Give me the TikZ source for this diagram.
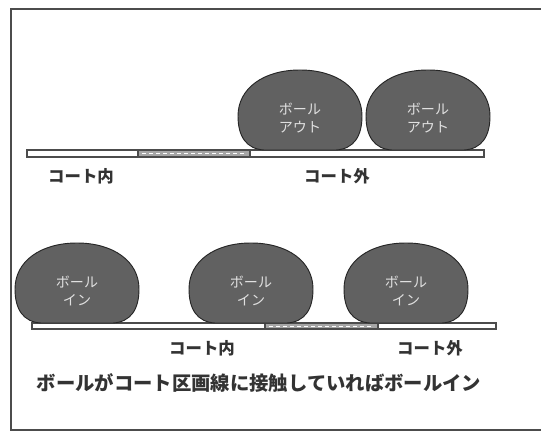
\documentclass[tikz,border=0pt]{standalone}
\usepackage{fontspec}
\newfontfamily\jp{Noto Sans CJK JP}
\usetikzlibrary{positioning}
\tikzset{
  frame/.style    = {draw=black!70, line width=1.4pt},
  court/.style    = {draw=black!70, fill=white, line width=0.9pt},
  arealine/.style = {draw=black!70, fill=black!35, line width=0.9pt},
  lbl/.style      = {font=\jp\bfseries\fontsize{14}{16}\selectfont, text=black!80},
  note/.style     = {font=\jp\bfseries\fontsize{16.5}{18}\selectfont, text=black!80},
  balltext/.style = {font=\jp\fontsize{12}{16}\selectfont, text=white!88!black, align=center},
  ball/.pic = {
    \path[draw=black!85, fill=black!62, line width=0.8pt]
      (-36,0) .. controls (-54,-1) and (-62,-14) .. (-62,-34)
              .. controls (-62,-62) and (-36,-80) .. (0,-80)
              .. controls (36,-80) and (62,-62) .. (62,-34)
              .. controls (62,-14) and (54,-1) .. (36,0) -- cycle;
    \node[balltext] (-txt) at (0,-32) {#1};
  }
}

\begin{document}
\begin{tikzpicture}[x=0.03cm, y=-0.03cm]

  \useasboundingbox (0,0) rectangle (541,432);
  \clip (0,0) rectangle (541,432);
  \draw[frame] (11,9) rectangle (570,430);

  % ── upper row: ball touching nothing → out ─────────────────────────
  \draw[court]    (27,150)  rectangle (484,157);
  \draw[arealine] (138,150) rectangle (250,157);
  \draw[white, dashed, line width=0.5pt] (142,153.5) -- (246,153.5);

  \pic (BoutA) at (300,150) {ball={ボール\\アウト}};
  \pic (BoutB) at (428,150) {ball={ボール\\アウト}};

  \node[lbl] (InTop)  at (81,176)  {コート内};
  \node[lbl] (OutTop) at (337,176) {コート外};

  % ── lower row: ball on the line → in ───────────────────────────────
  \draw[court]    (32,323)  rectangle (496,329);
  \draw[arealine] (265,323) rectangle (378,329);
  \draw[white, dashed, line width=0.5pt] (269,326) -- (374,326);

  \pic (BinA) at (77,323)  {ball={ボール\\イン}};
  \pic (BinB) at (251,323) {ball={ボール\\イン}};
  \pic (BinC) at (406,323) {ball={ボール\\イン}};

  \node[lbl] (InBot)  at (202,348) {コート内};
  \node[lbl] (OutBot) at (430,348) {コート外};

  % rule text
  \node[note] (Rule) at (259,383) {ボールがコート区画線に接触していればボールイン};

\end{tikzpicture}
\end{document}
